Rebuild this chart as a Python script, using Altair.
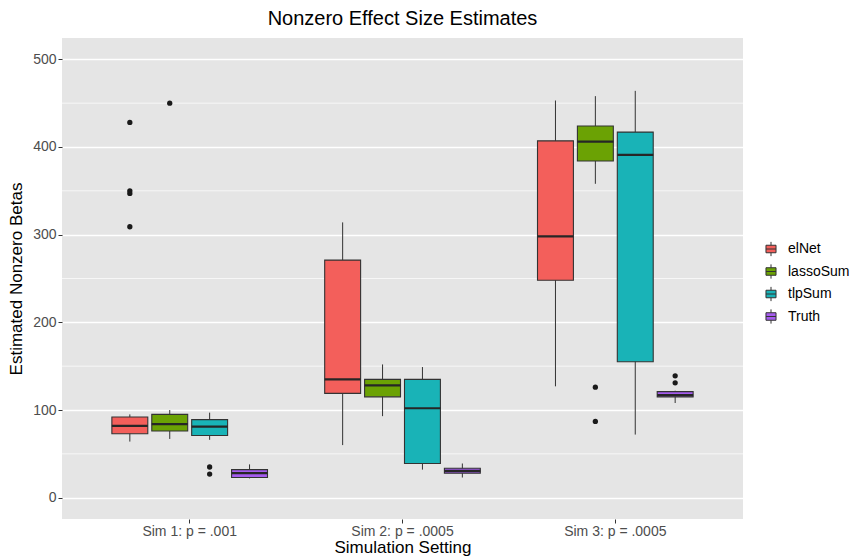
import altair as alt
import pandas as pd

settings = ["Sim 1: p = .001", "Sim 2: p = .0005", "Sim 3: p = .0005"]
methods = ["elNet", "lassoSum", "tlpSum", "Truth"]
colors = ["#F35F5B", "#6BA204", "#19B3B7", "#A55CEE"]

# per setting, per method: lower whisker, q1, median, q3, upper whisker
lower = [[64, 67, 66, 22], [60, 93, 32, 23], [127, 358, 72, 108]]
q1 = [[73, 76, 71, 23], [119, 115, 39, 28], [248, 384, 155, 115]]
median = [[82, 84, 81, 28], [135, 128, 102, 30.5], [298, 406, 391, 117]]
q3 = [[92, 95, 89, 32], [271, 135, 135, 33.5], [407, 424, 417, 121]]
upper = [[95, 100, 97, 38], [314, 152, 149, 39], [453, 458, 464, 122]]

out_setting = [0, 0, 0, 0, 0, 0, 0, 2, 2, 2, 2]
out_method = [0, 0, 0, 0, 1, 2, 2, 1, 1, 3, 3]
out_value = [428, 350, 347, 309, 450, 35, 27, 126, 87, 139, 131]

minor_breaks = [50, 150, 250, 350, 450]
major_breaks = [0, 100, 200, 300, 400, 500]

rows = []
for i, s in enumerate(settings):
    for j, m in enumerate(methods):
        rows.append(dict(setting=s, method=m, lo=lower[i][j], q1=q1[i][j],
                         med=median[i][j], q3=q3[i][j], hi=upper[i][j]))
stats = pd.DataFrame(rows)
outl = pd.DataFrame(dict(setting=[settings[i] for i in out_setting],
                         method=[methods[j] for j in out_method],
                         value=out_value))
minor = pd.DataFrame(dict(minor=minor_breaks))

FONT = "Liberation Sans"
YT = "Estimated Nonzero Betas"
XT = "Simulation Setting"

yscale = alt.Scale(domain=[-24.3, 524.3], nice=False, zero=False)
xscale = alt.Scale(domain=settings, paddingInner=0.25, paddingOuter=0.225)
oscale = alt.Scale(domain=methods, paddingInner=0.1, paddingOuter=0.05)
cscale = alt.Scale(domain=methods, range=colors)

xaxis = alt.Axis(title=XT, bandPosition=0.5, labelAngle=0)
yaxis = alt.Axis(title=YT, values=major_breaks)

X = alt.X("setting:N", scale=xscale, axis=xaxis)
XO = alt.XOffset("method:N", scale=oscale)

minor_layer = alt.Chart(minor).mark_rule(color="white", strokeWidth=0.7).encode(
    y=alt.Y("minor:Q", scale=yscale, title=YT)
)

whisk = alt.Chart(stats).mark_rule(color="#333333", strokeWidth=1).encode(
    x=X, xOffset=XO,
    y=alt.Y("lo:Q", scale=yscale, axis=yaxis),
    y2="hi:Q",
)

box = alt.Chart(stats).mark_bar(stroke="#333333", strokeWidth=1.1).encode(
    x=X, xOffset=XO,
    y=alt.Y("q1:Q", scale=yscale, title=YT),
    y2="q3:Q",
    fill=alt.Fill("method:N", scale=cscale,
                  legend=alt.Legend(title=None, orient="none", legendX=700, legendY=202,
                                    symbolType="M-0.6,-0.45H0.6V0.45H-0.6Z M-0.6,0H0.6 M0,-0.45V-0.85 M0,0.45V0.85",
                                    symbolSize=280, symbolStrokeColor="#333333",
                                    symbolStrokeWidth=1, symbolOpacity=1,
                                    labelFontSize=14, labelFont=FONT, labelColor="#000000",
                                    rowPadding=2.5, labelOffset=8)),
)

med = alt.Chart(stats).mark_tick(color="#262626", thickness=2.2, size=36, opacity=1).encode(
    x=X, xOffset=XO,
    y=alt.Y("med:Q", scale=yscale, title=YT),
)

pts = alt.Chart(outl).mark_circle(color="#1A1A1A", size=28, opacity=1).encode(
    x=X, xOffset=XO,
    y=alt.Y("value:Q", scale=yscale, title=YT),
)

chart = alt.layer(minor_layer, whisk, box, med, pts).properties(
    width=681, height=481,
    title=alt.TitleParams("Nonzero Effect Size Estimates", fontSize=20, font=FONT,
                          fontWeight="normal", color="#000000", offset=9, anchor="middle"),
    autosize=alt.AutoSizeParams(type="none"),
    padding={"left": 62, "top": 38, "right": 117, "bottom": 39},
).configure_view(
    fill="#E5E5E5", stroke=None
).configure_axis(
    domain=False, gridColor="white", gridWidth=1.4, tickColor="#333333", tickSize=4,
    tickWidth=1, labelFont=FONT, labelFontSize=14, labelColor="#4D4D4D", labelPadding=2,
    titleFont=FONT, titleFontSize=17, titleFontWeight="normal", titleColor="#000000",
).configure_axisX(
    titlePadding=1, labelPadding=1
).configure_axisY(
    titlePadding=7
)

chart.save("out.html", embed_options={"renderer": "svg", "actions": False})
